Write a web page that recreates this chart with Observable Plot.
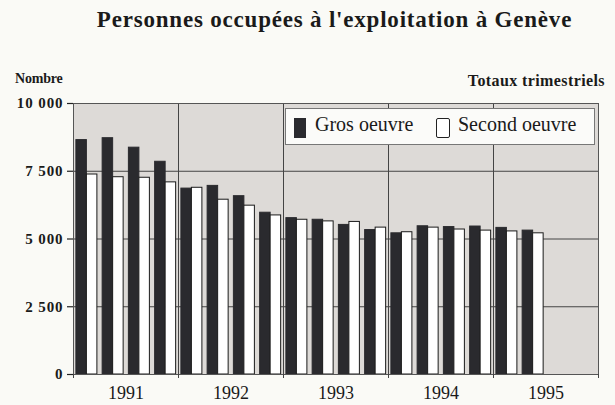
<!DOCTYPE html>
<html>
<head>
<meta charset="utf-8">
<script src="https://cdn.jsdelivr.net/npm/d3@7"></script>
<script src="https://cdn.jsdelivr.net/npm/@observablehq/plot@0.6"></script>
<style>
  html, body { margin: 0; padding: 0; background: #fafaf6; }
  #wrap { position: relative; width: 615px; height: 405px; overflow: hidden; font-family: "Liberation Serif", "DejaVu Serif", serif; color: #1a1a1a; }
  #title { position: absolute; left: 0; width: 615px; top: 7px; text-align: center; font-weight: bold; font-size: 23px; letter-spacing: 0.8px; padding-left: 54px; box-sizing: border-box; }
  #ylab { position: absolute; left: 15px; top: 71px; font-weight: bold; font-size: 14px; letter-spacing: -0.2px; }
  #sub { position: absolute; right: 10px; top: 72px; font-weight: bold; font-size: 16px; letter-spacing: 0.4px; }
  #legend { position: absolute; left: 285px; top: 108px; width: 310px; height: 37px; box-sizing: border-box; background: #fbfbf9; border: 1.5px solid #777; font-size: 20px; }
  .sw { position: absolute; top: 8.5px; height: 20px; box-sizing: border-box; }
  .lt { position: absolute; top: 4px; }
  #plot { position: absolute; left: 0; top: 0; }
  #plot g[aria-label="y-axis tick label"] text { letter-spacing: 0.9px; }
</style>
</head>
<body>
<div id="wrap">
  <div id="plot"></div>
  <div id="title">Personnes occupées à l'exploitation à Genève</div>
  <div id="ylab">Nombre</div>
  <div id="sub">Totaux trimestriels</div>
  <div id="legend">
    <div class="sw" style="left:8px; width:12px; background:#2a2a2e;"></div>
    <div class="lt" style="left:29px;">Gros oeuvre</div>
    <div class="sw" style="left:150px; width:14px; background:#fff; border:1.5px solid #222; border-radius:2px;"></div>
    <div class="lt" style="left:172px;">Second oeuvre</div>
  </div>
</div>
<script>
const years = ["1991", "1992", "1993", "1994", "1995"];
const quarters = ["T1","T2","T3","T4","T1","T2","T3","T4","T1","T2","T3","T4","T1","T2","T3","T4","T1","T2"];
const grosOeuvre = [8650, 8720, 8370, 7850, 6860, 6960, 6580, 5970, 5770, 5710, 5520, 5330, 5210, 5470, 5440, 5460, 5410, 5310];
const secondOeuvre = [7380, 7280, 7260, 7090, 6890, 6450, 6230, 5870, 5710, 5650, 5630, 5420, 5250, 5420, 5350, 5310, 5280, 5210];
const yTicks = [0, 2500, 5000, 7500, 10000];

const grosRows = quarters.map((q, i) => ({value: grosOeuvre[i], x1: i + 0.11, x2: i + 0.51}));
const secondRows = quarters.map((q, i) => ({value: secondOeuvre[i], x1: i + 0.51, x2: i + 0.91}));
const yearBounds = years.map((y, j) => j * 4).concat([years.length * 4]);
const yearLabels = years.map((y, j) => ({year: y, x: j * 4 + 2}));
const fmt = d => d3.format(",")(d).replace(/,/g, " ");

const chart = Plot.plot({
  width: 615,
  height: 405,
  marginLeft: 73,
  marginRight: 17,
  marginTop: 103,
  marginBottom: 31,
  style: {background: "transparent", fontFamily: "Liberation Serif, serif", color: "#1a1a1a"},
  x: {type: "linear", domain: [0, years.length * 4], axis: null},
  y: {type: "linear", domain: [0, 10000], axis: null},
  marks: [
    Plot.frame({fill: "#dddad7", stroke: null}),
    Plot.ruleY(yTicks, {stroke: "#444", strokeWidth: 1}),
    Plot.ruleX(yearBounds, {stroke: "#444", strokeWidth: 1}),
    Plot.rect(grosRows, {x1: "x1", x2: "x2", y1: 0, y2: "value", fill: "#2a2a2e", stroke: "#2a2a2e", strokeWidth: 1}),
    Plot.rect(secondRows, {x1: "x1", x2: "x2", y1: 0, y2: "value", fill: "#ffffff", stroke: "#1a1a1a", strokeWidth: 1}),
    Plot.frame({stroke: "#555", strokeWidth: 1}),
    Plot.axisY(yTicks, {
      tickSize: 6, tickPadding: 4, tickFormat: fmt, label: null,
      fontSize: 15, fontWeight: "bold", stroke: "#222", strokeWidth: 1.2
    }),
    Plot.axisX(yearBounds, {tickSize: 4, tickFormat: () => "", label: null, stroke: "#444"}),
    Plot.text(yearLabels, {x: "x", y: 0, text: "year", dy: 19, fontSize: 18, fill: "#1a1a1a"})
  ]
});
document.getElementById("plot").appendChild(chart);
</script>
</body>
</html>
